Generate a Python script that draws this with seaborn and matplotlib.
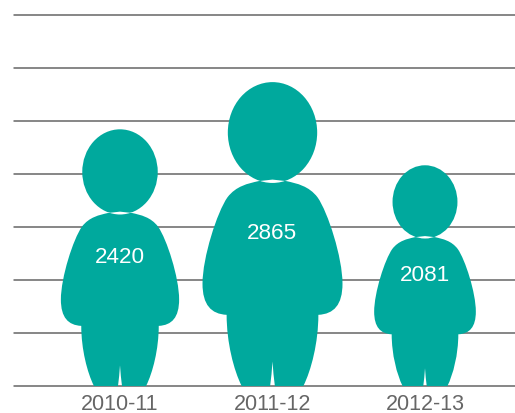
import numpy as np
import pandas as pd
import seaborn as sns
import matplotlib.pyplot as plt
from matplotlib.patches import PathPatch
from matplotlib.path import Path
from matplotlib.transforms import Affine2D

years = ["2010-11", "2011-12", "2012-13"]
values = [2420, 2865, 2081]
y_ticks = [0, 500, 1000, 1500, 2000, 2500, 3000, 3500]

teal = "#00A99D"
grey = "#666666"

sns.set_style("white")
plt.rcParams["font.family"] = ["Liberation Sans", "DejaVu Sans"]

W, H = 515, 414
top, base = 16.0, 387.0
fig = plt.figure(figsize=(W / 100, H / 100), dpi=100)
ax = fig.add_axes([14 / W, (H - base) / H, (W - 14) / W, (base - top) / H])

df = pd.DataFrame({"year": years, "value": values})
sns.barplot(data=df, x="year", y="value", color=teal, ax=ax)

# px between categories in the reference, fixes the x limits
step = 152.5
ax.set_xlim((14 - 120) / step, (515 - 120) / step)
ax.set_ylim(y_ticks[0], y_ticks[-1])
ax.set_yticks(y_ticks)
ax.set_yticklabels([])
ax.set_xlabel("")
ax.set_ylabel("")
ax.grid(True, axis="y", color=grey, lw=1.1)
ax.grid(False, axis="x")
ax.set_axisbelow(True)
for line in ax.get_ygridlines():
    line.set_clip_on(False)
sns.despine(ax=ax, left=True, bottom=True, top=True, right=True)
ax.tick_params(axis="x", length=0, pad=5, labelsize=15.5, labelcolor=grey)
ax.tick_params(axis="y", length=0)


# silhouette outline, right half, measured on a figure 768 units tall
half = [
    (0, 522),
    (0, 522), (36, 518), (36, 518),
    (62, 512), (92, 506), (114, 477),
    (140, 440), (177, 325), (177, 259),
    (177, 205), (155, 182), (116, 180),
    (116, 110), (98, 40), (78, 0),
    (78, 0), (6, 0), (6, 0),
    (4, 20), (1, 40), (0, 62),
]
half = np.array(half, dtype=float)
mirror = half[-2::-1] * [-1, 1]
body = np.vstack([half, mirror]) / 768
body_path = Path(body, [Path.MOVETO] + [Path.CURVE4] * (len(body) - 1))
head_path = Path.unit_circle().transformed(
    Affine2D().scale(113 / 768, 127.5 / 768).translate(0, 641 / 768)
)
person = Path.make_compound_path(head_path, body_path)

px_per_value = (base - top) / y_ticks[-1]
for i, bar in enumerate(list(ax.patches)):
    v = bar.get_height()
    cx = bar.get_x() + bar.get_width() / 2
    bar.set_visible(False)
    # same scale both ways on screen so the figure keeps its shape
    sx = v * px_per_value / step
    tr = Affine2D().scale(sx, v).translate(cx, 0) + ax.transData
    ax.add_patch(PathPatch(person, transform=tr, fc=teal, ec="none", zorder=3))
    ax.text(cx, v * 0.506, str(values[i]), color="white", fontsize=16.2,
            ha="center", va="center", zorder=4)

fig.savefig("out.png", dpi=100, facecolor="white")
